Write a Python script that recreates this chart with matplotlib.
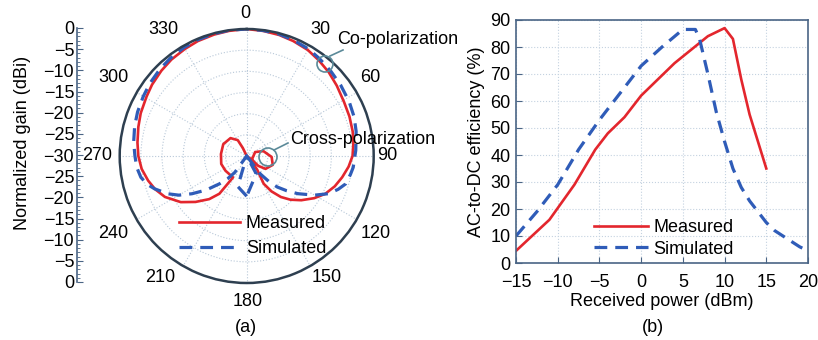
import numpy as np
import matplotlib
matplotlib.use('Agg')
import matplotlib.pyplot as plt
from matplotlib.patches import Ellipse

plt.rcParams['font.family'] = ['Liberation Sans', 'DejaVu Sans']
plt.rcParams['font.size'] = 13

# ---- (a) radiation pattern: angle in degrees (clockwise from top), gain in dB
# traced as one path: left inner loop -> left lobe -> main beam -> right lobe -> right inner loop
meas_ang = [0, 334.2, 330.6, 317.8, 296.9, 274.4, 252.7, 235.1,
            212.6, 215.9, 221, 228.1, 235, 243.4, 250, 256, 263, 270, 277, 285, 292,
            300.6, 307, 315, 322, 330, 337, 345, 352, 360, 7.5, 15, 22, 30, 37, 44.4,
            52, 60.9, 69, 76.9, 83, 90, 96, 102.6, 109, 115.7, 122, 129, 135, 140.2,
            145, 148.5, 142.6, 138,
            65, 73.6, 92.2, 108.8, 124.3, 130.4, 126, 0]
meas_gain = [-30, -27.9, -25.7, -24.3, -23.8, -23.9, -23.7, -23.9,
             -24.0, -19.0, -16.5, -13.75, -11.0, -8.4, -7.0, -6.0, -5.0, -4.4, -4.0,
             -3.5, -3.0, -2.5, -2.0, -1.5, -1.1, -0.8, -0.5, -0.3, -0.15, 0, -0.2, -0.4,
             -0.7, -1.1, -1.7, -2.3, -3.0, -3.7, -4.0, -4.3, -4.6, -5.0, -5.8, -6.9,
             -8.0, -9.4, -11.2, -13.4, -15.4, -17.4, -19.8, -22.3, -25.9, -28.4,
             -27.8, -25.9, -24.1, -23.5, -24.6, -26.4, -28.4, -30]
sim_ang = [180, 196.3, 0,
           216, 220, 224.4, 230, 235.4, 240, 244.3, 250.4, 254, 258.6, 264, 270, 277,
           285, 292, 300, 307, 315, 322, 330, 337, 345, 352, 360, 7.5, 15, 22, 30, 37,
           45, 53, 62.1, 70, 77.3, 87, 96.1, 100, 105.7, 110, 114.7, 120, 126.4, 131,
           135.4, 139, 142.8,
           0, 151.8, 180]
sim_gain = [-20.5, -22.5, -30,
            -25.2, -23.0, -20.8, -17.5, -14.3, -11.5, -9.4, -6.9, -5.6, -4.5, -3.9, -3.6,
            -3.1, -2.6, -2.2, -1.8, -1.4, -1.0, -0.7, -0.4, -0.2, -0.1, 0, 0, -0.1, -0.2,
            -0.5, -0.8, -1.3, -1.8, -2.2, -2.6, -3.0, -3.5, -4.2, -4.7, -5.1, -5.7,
            -7.0, -8.7, -11.5, -15.0, -17.5, -19.7, -22.0, -24.65,
            -30, -25.25, -20.5]
gain_ticks = list(range(0, 61, 5))
gain_labels = ['0', '−5', '−10', '−15', '−20', '−25', '−30',
               '−25', '−20', '−15', '−10', '−5', '0']
ang_ticks = list(range(0, 360, 30))
# where the angle labels sit in the reference (figure pixels, from top-left)
ang_label_pos = [(245, 14), (320, 30), (370, 78), (387, 156), (376, 233), (327, 278),
                 (248, 302), (160, 278), (113, 233), (97, 156), (113, 78), (163, 30)]

# ---- (b) efficiency vs received power
p_meas = [-15, -11, -8, -5.5, -4, -2, 0, 2, 4, 6, 8, 10, 11, 12, 13, 14, 15]
eff_meas = [4.5, 16, 29, 42, 48, 54, 62, 68, 74, 79, 84, 87, 83, 68, 55, 45, 35]
p_sim = [-15, -12.5, -10, -7.5, -5, -2.5, 0, 2.5, 5, 6.5, 7, 8, 9, 10, 11, 12, 13, 14,
         15, 16, 17, 18, 19, 20]
eff_sim = [10, 19, 29, 42, 53, 63, 73, 80, 86.5, 86.5, 83, 70, 56, 45, 35, 28, 23, 19,
           15, 12, 10, 8, 6, 4.5]

RED = '#e3262d'
BLUE = '#2f5cb8'
FRAME = '#4a6585'
NOTE = '#5b8a99'
W, H = 818, 340

fig = plt.figure(figsize=(W / 100, H / 100), dpi=100)

# polar panel
R = 127
ax = fig.add_axes([(246.7 - R) / W, (H - 156 - R) / H, 2 * R / W, 2 * R / H],
                  projection='polar')
ax.set_theta_zero_location('N')
ax.set_theta_direction(-1)
ax.plot(np.radians(meas_ang), meas_gain, color=RED, lw=1.9, label='Measured')
ax.plot(np.radians(sim_ang), sim_gain, color=BLUE, lw=2.3, ls=(0, (4, 2.5)),
        label='Simulated')
ax.set_rlim(-30, 0)
ax.set_rgrids([-25, -20, -15, -10, -5], labels=[])
ax.set_thetagrids(ang_ticks, labels=[''] * len(ang_ticks))
ax.set_xticks(np.radians(np.arange(0, 360, 10)), minor=True)
ax.tick_params(axis='x', which='major', direction='in', length=5, color='#2e3f50')
ax.tick_params(axis='x', which='minor', direction='in', length=3, color='#2e3f50')
ax.grid(True, color='#b8c8d8', ls=':', lw=0.8)
ax.spines['polar'].set_color('#2e3f50')
ax.spines['polar'].set_linewidth(1.8)
ax.legend(loc='upper left', bbox_to_anchor=(170 / W, 1 - 206 / H),
          bbox_transform=fig.transFigure, frameon=False, handlelength=3.4,
          handletextpad=0.3, labelspacing=0.45, borderpad=0, fontsize=13)
for a, (px, py) in zip(ang_ticks, ang_label_pos):
    fig.text(px / W, 1 - py / H, str(a), ha='center', va='center', fontsize=13)

# mirrored gain scale on the left
axl = fig.add_axes([77 / W, 58 / H, 0.001, 254 / H])
axl.set_ylim(0, 60)
axl.set_yticks(gain_ticks)
axl.set_yticklabels(gain_labels)
axl.set_yticks(range(0, 61), minor=True)
axl.set_xticks([])
for s in ['top', 'right', 'bottom']:
    axl.spines[s].set_visible(False)
axl.spines['left'].set_color(FRAME)
axl.spines['left'].set_linewidth(1.2)
axl.tick_params(axis='y', which='major', direction='in', length=4, color=FRAME,
                pad=2, labelsize=13)
axl.tick_params(axis='y', which='minor', direction='in', length=2, color=FRAME)
axl.patch.set_visible(False)
fig.text(23 / W, 1 - 143 / H, 'Normalized gain (dBi)', rotation=90, ha='center',
         va='center', fontsize=13)

# annotations
for cx, cy, r in [(325, 64, 8), (268, 157, 9)]:
    fig.add_artist(Ellipse((cx / W, 1 - cy / H), 2 * r / W, 2 * r / H,
                           transform=fig.transFigure, fill=False, ec=NOTE, lw=1.2))
fig.add_artist(plt.Line2D([330 / W, 343 / W], [1 - 56 / H, 1 - 50 / H],
                          transform=fig.transFigure, color=NOTE, lw=1.2))
fig.add_artist(plt.Line2D([274 / W, 288 / W], [1 - 150 / H, 1 - 143 / H],
                          transform=fig.transFigure, color=NOTE, lw=1.2))
fig.text(337 / W, 1 - 40 / H, 'Co-polarization', ha='left', va='center', fontsize=13)
fig.text(290 / W, 1 - 139 / H, 'Cross-polarization', ha='left', va='center',
         fontsize=13)
fig.text(246 / W, 1 - 327 / H, '(a)', ha='center', va='center', fontsize=13)

# efficiency panel
bx = fig.add_axes([516 / W, 77 / H, 292 / W, 243 / H])
bx.plot(p_meas, eff_meas, color=RED, lw=1.9, label='Measured')
bx.plot(p_sim, eff_sim, color=BLUE, lw=2.3, ls=(0, (4, 2.5)), label='Simulated')
bx.set_xlim(-15, 20)
bx.set_ylim(0, 90)
bx.set_xticks(range(-15, 21, 5))
bx.set_xticklabels([str(v).replace('-', '−') for v in range(-15, 21, 5)])
bx.set_yticks(range(0, 91, 10))
bx.grid(True, color='#c4d2e0', ls=':', lw=0.8)
for s in bx.spines.values():
    s.set_color(FRAME)
    s.set_linewidth(1.2)
bx.tick_params(direction='in', length=4, color=FRAME, labelsize=13, pad=4)
bx.tick_params(axis='x', pad=8)
bx.set_xlabel('Received power (dBm)', fontsize=13, labelpad=1)
bx.set_ylabel('AC-to-DC efficiency (%)', fontsize=13, labelpad=4)
bx.legend(loc='upper left', bbox_to_anchor=(585 / W, 1 - 210 / H),
          bbox_transform=fig.transFigure, frameon=False, handlelength=3.0,
          handletextpad=0.3, labelspacing=0.25, borderpad=0, fontsize=13)
fig.text(653 / W, 1 - 327 / H, '(b)', ha='center', va='center', fontsize=13)

fig.savefig('out.png', dpi=100)
